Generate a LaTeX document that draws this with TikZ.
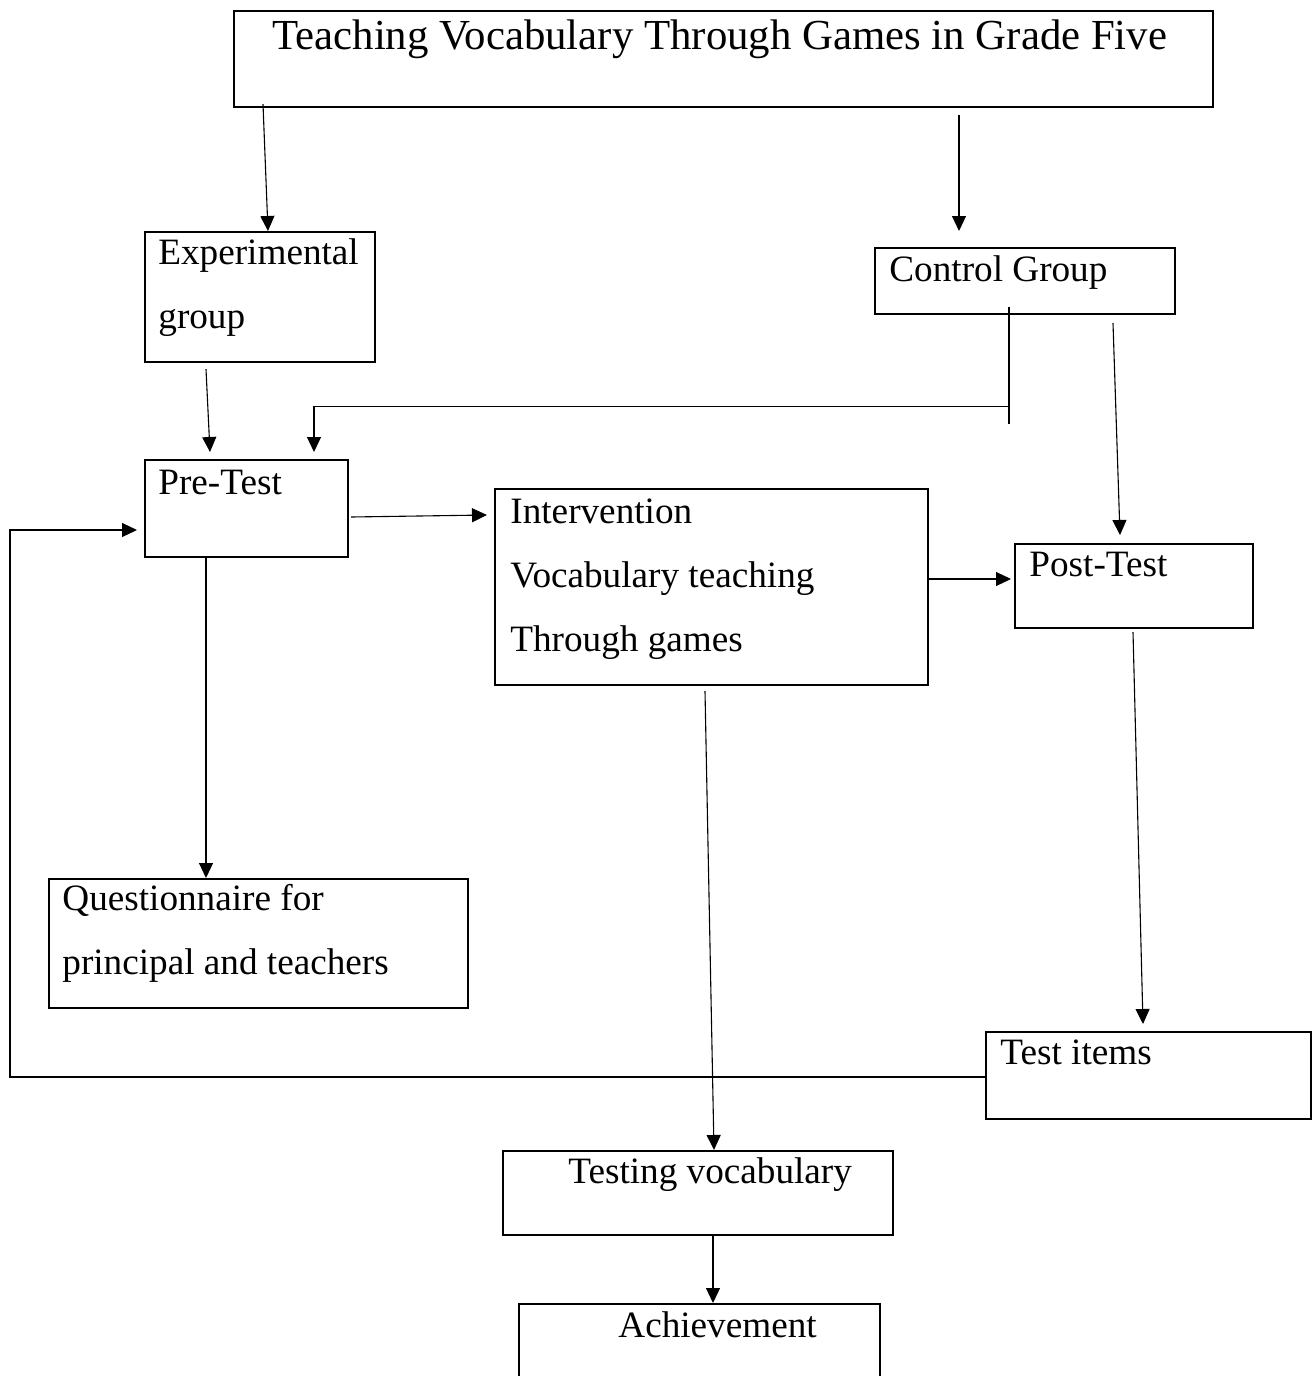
\documentclass[tikz,border=0pt]{standalone}
\usepackage{fontspec}
\setmainfont{Liberation Serif}
\usetikzlibrary{arrows.meta,calc}
\tikzset{
  box/.style={draw=black, line width=1.1pt, rectangle, anchor=north west, inner sep=0pt},
  txt/.style={anchor=base west, inner sep=0pt, align=left, font=\fontsize{18.6}{31.8}\selectfont},
  ttl/.style={anchor=base west, inner sep=0pt, font=\fontsize{21.4}{26}\selectfont},
  conn/.style={draw=black, line width=0.55pt},
  arr/.style={conn, -{Triangle[length=7.5pt,width=7pt]}}
}
\begin{document}
\begin{tikzpicture}[x=0.5pt,y=-0.5pt]
\clip (0,0) rectangle (1314,1376);
% boxes
\node[box, minimum width=489.5pt, minimum height=48pt] (title) at (233,10) {};
\node[box, minimum width=115pt, minimum height=65pt] (exp) at (144,231) {};
\node[box, minimum width=150pt, minimum height=33pt] (ctrl) at (874,247) {};
\node[box, minimum width=101.5pt, minimum height=48.5pt] (pre) at (144,459) {};
\node[box, minimum width=216.5pt, minimum height=98pt] (intv) at (494,488) {};
\node[box, minimum width=119pt, minimum height=42pt] (post) at (1014,543) {};
\node[box, minimum width=209.5pt, minimum height=64.5pt] (quest) at (48,878) {};
\node[box, minimum width=162.5pt, minimum height=43.5pt] (items) at (985,1031) {};
\node[box, minimum width=195pt, minimum height=42pt] (tvoc) at (502,1150) {};
\node[box, minimum width=180.5pt, minimum height=50pt] (ach) at (518,1303) {};
% texts (multi-line nodes are anchored at the baseline of their last line)
\node[ttl] (titlet) at (272,49) {Teaching Vocabulary Through Games in Grade Five};
\node[txt] (expt) at (158,328) {Experimental\\group};
\node[txt] (ctrlt) at (889,281) {Control Group};
\node[txt] (pret) at (158,494) {Pre-Test};
\node[txt] (intvt) at (510,651) {Intervention\\Vocabulary teaching\\Through games};
\node[txt] (postt) at (1029,576) {Post-Test};
\node[txt] (questt) at (62,974) {Questionnaire for\\principal and teachers};
\node[txt] (itemst) at (1000,1064) {Test items};
\node[txt] (tvoct) at (568,1183) {Testing vocabulary};
\node[txt] (acht) at (618,1337) {Achievement};
% connectors
\draw[arr] ($(title.south west)+(30,-4)$) -- ($(exp.north west)+(124,0)$);
\draw[arr] ($(title.south west)+(726,7)$) -- ($(ctrl.north west)+(85,-16)$);
\draw[arr] ($(exp.south west)+(62,6)$) -- ($(pre.north west)+(66,-7)$);
\draw[conn] ($(ctrl.south west)+(135,-8)$) -- ($(ctrl.south west)+(135,109)$);
\draw[arr] ($(ctrl.south west)+(135,91)$) -| ($(pre.north west)+(170,-7)$);
\draw[arr] ($(ctrl.south west)+(239,8)$) -- ($(post.north west)+(106,-8)$);
\draw[arr] ($(pre.north east)+(2,58)$) -- ($(intv.north west)+(-7,27)$);
\draw[arr] ($(intv.north east)+(0,91)$) -- ($(post.north west)+(-3,36)$);
\draw[arr] ($(pre.south west)+(62,0)$) -- ($(quest.north west)+(158,0)$);
\draw[arr] ($(intv.south west)+(211,5)$) -- ($(tvoc.north west)+(212,0)$);
\draw[arr] ($(post.south west)+(119,3)$) -- ($(items.north west)+(158,-7)$);
\draw[arr] ($(items.north west)+(0,46)$) -| ($(pre.north west)+(-134,71)$) -- ($(pre.north west)+(-7,71)$);
\draw[arr] ($(tvoc.south west)+(211,0)$) -- ($(ach.north west)+(195,0)$);
\end{tikzpicture}
\end{document}
